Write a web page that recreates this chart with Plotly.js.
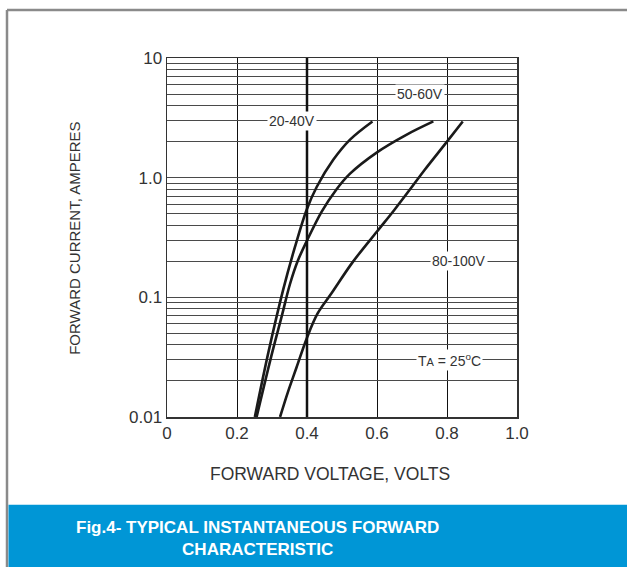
<!DOCTYPE html>
<html>
<head>
<meta charset="utf-8">
<script src="https://cdn.plot.ly/plotly-3.0.1.min.js"></script>
<style>html,body{margin:0;padding:0;background:#fff;}#chart{width:627px;height:567px;}</style>
</head>
<body>
<div id="chart"></div>
<script>
// Data (forward voltage V, forward current A)
const v2040 = [0.251, 0.29, 0.332, 0.365, 0.399, 0.428, 0.475, 0.523, 0.587];
const i2040 = [0.01, 0.035, 0.116, 0.26, 0.54, 0.84, 1.41, 2.08, 2.95];
const v5060 = [0.256, 0.30, 0.329, 0.351, 0.374, 0.399, 0.442, 0.483, 0.523, 0.599, 0.685, 0.761];
const i5060 = [0.01, 0.034, 0.0717, 0.128, 0.203, 0.294, 0.52, 0.79, 1.08, 1.62, 2.29, 2.95];
const v80100 = [0.323, 0.345, 0.37, 0.40, 0.43, 0.47, 0.53, 0.60, 0.65, 0.70, 0.737, 0.80, 0.845];
const i80100 = [0.01, 0.016, 0.0259, 0.046, 0.073, 0.108, 0.196, 0.355, 0.54, 0.84, 1.17, 2.0, 2.95];

const xTickVals = [0, 0.2, 0.4, 0.6, 0.8, 1.0];
const xTickText = ["0", "0.2", "0.4", "0.6", "0.8", "1.0"];
const decades = [0.01, 0.1, 1, 10];
const decadeLabels = ["0.01", "0.1", "1.0", "10"];

const yTickVals = [], yTickText = [];
for (let d = 0; d < decades.length; d++) {
  yTickVals.push(decades[d]); yTickText.push(decadeLabels[d]);
  if (d < decades.length - 1) {
    for (let m = 2; m <= 9; m++) { yTickVals.push(decades[d] * m); yTickText.push(" "); }
  }
}

const curveStyle = {color: '#1a1a1a', width: 2.6, shape: 'spline', smoothing: 1};
const traces = [
  {x: v2040, y: i2040, mode: 'lines', line: curveStyle, name: '20-40V', hoverinfo: 'skip'},
  {x: v5060, y: i5060, mode: 'lines', line: curveStyle, name: '50-60V', hoverinfo: 'skip'},
  {x: v80100, y: i80100, mode: 'lines', line: curveStyle, name: '80-100V', hoverinfo: 'skip'}
];

const labelFont = {family: 'Liberation Sans, Arial, sans-serif', size: 14, color: '#333'};
function lbl(text, x, y) {
  return {text: text, x: x, y: Math.log10(y), xref: 'x', yref: 'y', showarrow: false,
          xanchor: 'center', yanchor: 'middle', bgcolor: '#fff', borderpad: 1, font: labelFont};
}
function px(x) { return (x - 167) / 350; }
function py(y) { return (417.3 - y) / 359.3; }

const layout = {
  width: 627, height: 567,
  margin: {l: 167, r: 110, t: 58, b: 150},
  paper_bgcolor: '#fff', plot_bgcolor: '#fff',
  showlegend: false,
  font: {family: 'Liberation Sans, Arial, sans-serif', color: '#333'},
  xaxis: {
    range: [0, 1.0], tickvals: xTickVals, ticktext: xTickText,
    showgrid: true, gridcolor: '#111', gridwidth: 1,
    zeroline: false, showline: true, linecolor: '#333', linewidth: 1.5, mirror: true,
    ticks: '', tickfont: {size: 17, color: '#333'}, fixedrange: true
  },
  yaxis: {
    type: 'log', range: [-2, 1], tickvals: yTickVals, ticktext: yTickText,
    showgrid: true, gridcolor: '#4a4a4a', gridwidth: 1,
    zeroline: false, showline: true, linecolor: '#333', linewidth: 1.5, mirror: true,
    ticks: '', tickfont: {size: 17, color: '#333'}, fixedrange: true
  },
  shapes: [
    {type: 'line', xref: 'x', yref: 'paper', x0: 0.4, x1: 0.4, y0: 0, y1: 1, line: {color: '#111', width: 2.5}},
    // outer frame
    {type: 'line', xref: 'paper', yref: 'paper', x0: px(7), x1: px(7), y0: py(570), y1: py(10), line: {color: '#8a8a8a', width: 2.5}},
    {type: 'line', xref: 'paper', yref: 'paper', x0: px(7), x1: px(630), y0: py(10), y1: py(10), line: {color: '#8a8a8a', width: 2.5}},
    // blue banner
    {type: 'rect', xref: 'paper', yref: 'paper', x0: px(8.5), x1: px(630), y0: py(570), y1: py(505), fillcolor: '#0096d6', line: {width: 0}}
  ],
  annotations: [
    lbl('50-60V', 0.723, 5),
    lbl('20-40V', 0.357, 3),
    lbl('80-100V', 0.834, 0.2),
    lbl('T<span style="font-size:11px">A</span> = 25<sup>o</sup>C', 0.806, 0.03),
    {text: 'FORWARD VOLTAGE, VOLTS', xref: 'paper', yref: 'paper', x: px(330), y: py(474),
     xanchor: 'center', yanchor: 'middle', showarrow: false, font: {size: 17.5, color: '#333'}},
    {text: 'FORWARD CURRENT, AMPERES', xref: 'paper', yref: 'paper', x: px(75), y: py(239),
     xanchor: 'center', yanchor: 'middle', showarrow: false, textangle: -90,
     font: {family: 'Liberation Sans Narrow, Liberation Sans, Arial, sans-serif', size: 15, color: '#333'}},
    {text: '<b>Fig.4- TYPICAL INSTANTANEOUS FORWARD</b><br><b>CHARACTERISTIC</b>', xref: 'paper', yref: 'paper',
     x: px(257), y: py(539), xanchor: 'center', yanchor: 'middle', showarrow: false, align: 'center',
     font: {family: 'Liberation Sans Narrow, Liberation Sans, Arial, sans-serif', size: 17, color: '#fff'}}
  ]
};

Plotly.newPlot('chart', traces, layout, {staticPlot: true, displayModeBar: false});
</script>
</body>
</html>
